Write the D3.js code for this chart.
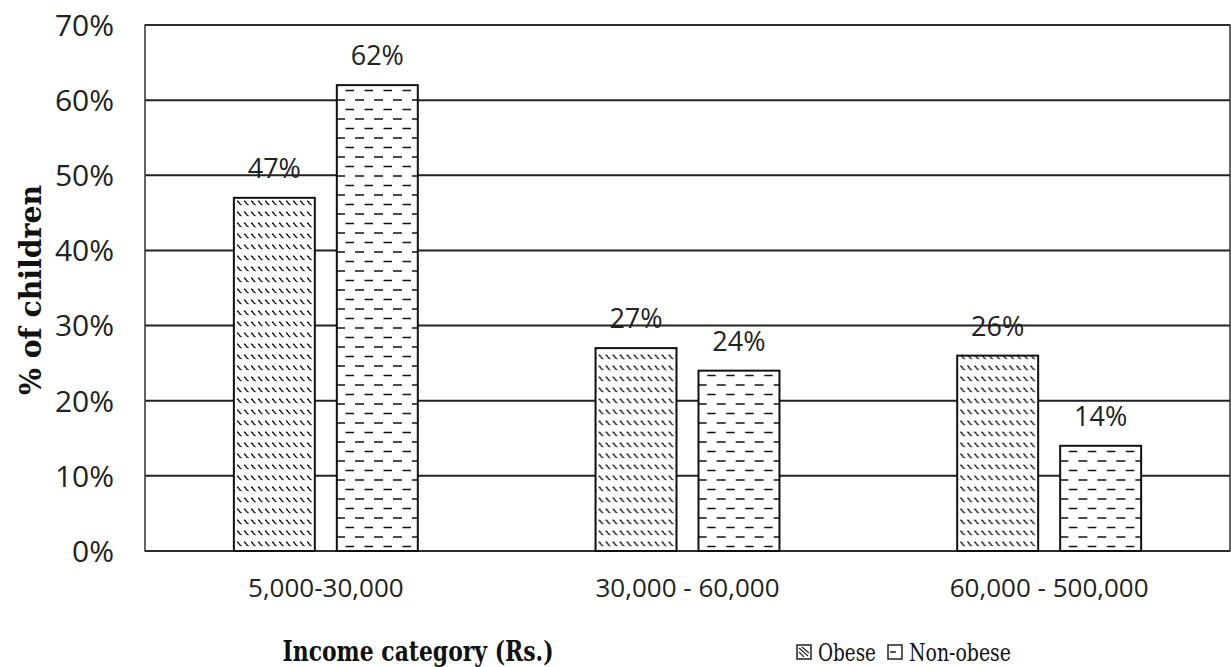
<!DOCTYPE html>
<html>
<head>
<meta charset="utf-8">
<script src="https://cdn.jsdelivr.net/npm/d3@7"></script>
<style>
  body { margin: 0; background: #fff; }
  svg { display: block; }
</style>
</head>
<body>
<div id="chart"></div>
<script>
const categories = ["5,000-30,000", "30,000 - 60,000", "60,000 - 500,000"];
const seriesNames = ["Obese", "Non-obese"];
const obese = [47, 27, 26];
const nonObese = [62, 24, 14];
const yTicks = [0, 10, 20, 30, 40, 50, 60, 70];

const W = 1231, H = 667;
const margin = { top: 25, right: 1, bottom: 116, left: 145 };

const svg = d3.select("#chart").append("svg")
  .attr("width", W).attr("height", H);

const defs = svg.append("defs");

// obese: rows of small slanted strokes
const pObese = defs.append("pattern")
  .attr("id", "pat-obese")
  .attr("patternUnits", "userSpaceOnUse")
  .attr("width", 7).attr("height", 11);
pObese.append("rect").attr("width", 7).attr("height", 11).attr("fill", "#fff");
pObese.append("path")
  .attr("d", "M1,3 Q2.5,3.2 3,4.8 T5.6,7")
  .attr("fill", "none").attr("stroke", "#111").attr("stroke-width", 1.3);

// non-obese: staggered horizontal dashes
const pNon = defs.append("pattern")
  .attr("id", "pat-non")
  .attr("patternUnits", "userSpaceOnUse")
  .attr("width", 19).attr("height", 19);
pNon.append("rect").attr("width", 19).attr("height", 19).attr("fill", "#fff");
pNon.append("path")
  .attr("d", "M1,5 H10 M10.5,14.5 H19.5 M-9,14.5 H0")
  .attr("fill", "none").attr("stroke", "#111").attr("stroke-width", 1.6);

const fills = { "Obese": "url(#pat-obese)", "Non-obese": "url(#pat-non)" };

const x = d3.scaleBand()
  .domain(categories)
  .range([margin.left, W - margin.right]);

const xSub = d3.scaleBand()
  .domain(seriesNames)
  .range([0, x.bandwidth()])
  .paddingInner(0.2136)
  .paddingOuter(0.863);

const y = d3.scaleLinear()
  .domain([0, 70])
  .range([H - margin.bottom, margin.top]);

// gridlines
svg.append("g")
  .selectAll("line")
  .data(yTicks)
  .join("line")
  .attr("x1", margin.left).attr("x2", W - margin.right)
  .attr("y1", d => y(d)).attr("y2", d => y(d))
  .attr("stroke", "#222").attr("stroke-width", 2);

// frame
svg.append("rect")
  .attr("x", margin.left).attr("y", margin.top)
  .attr("width", W - margin.right - margin.left)
  .attr("height", y(0) - margin.top)
  .attr("fill", "none").attr("stroke", "#333").attr("stroke-width", 1.5);

const sans = "'Open Sans', sans-serif";
const serif = "'DejaVu Serif', serif";

// y tick labels
svg.append("g")
  .selectAll("text")
  .data(yTicks)
  .join("text")
  .attr("x", 114)
  .attr("y", d => y(d))
  .attr("dy", "0.36em")
  .attr("text-anchor", "end")
  .style("font-family", sans)
  .style("font-size", "30px")
  .style("fill", "#222")
  .text(d => d + "%");

const rows = categories.map((c, i) => ({ cat: c, values: [
  { key: "Obese", value: obese[i] },
  { key: "Non-obese", value: nonObese[i] }
]}));

const groups = svg.append("g")
  .selectAll("g")
  .data(rows)
  .join("g")
  .attr("transform", d => `translate(${x(d.cat)},0)`);

groups.selectAll("rect")
  .data(d => d.values)
  .join("rect")
  .attr("x", d => xSub(d.key))
  .attr("y", d => y(d.value))
  .attr("width", xSub.bandwidth())
  .attr("height", d => y(0) - y(d.value))
  .attr("fill", d => fills[d.key])
  .attr("stroke", "#111")
  .attr("stroke-width", 2);

groups.selectAll("text")
  .data(d => d.values)
  .join("text")
  .attr("x", d => xSub(d.key) + xSub.bandwidth() / 2)
  .attr("y", d => y(d.value) - 20)
  .attr("text-anchor", "middle")
  .style("font-family", sans)
  .style("font-size", "27px")
  .style("fill", "#222")
  .text(d => d.value + "%");

// category labels
svg.append("g")
  .selectAll("text")
  .data(categories)
  .join("text")
  .attr("x", d => x(d) + x.bandwidth() / 2)
  .attr("y", 597)
  .attr("text-anchor", "middle")
  .style("font-family", sans)
  .style("font-size", "26px")
  .style("fill", "#222")
  .text(d => d);

// axis titles (Cambria-like proportions: taller glyphs squeezed to width)
svg.append("text")
  .attr("transform", `translate(41,290) rotate(-90)`)
  .attr("text-anchor", "middle")
  .attr("textLength", 210)
  .attr("lengthAdjust", "spacingAndGlyphs")
  .style("font-family", serif)
  .style("font-weight", "bold")
  .style("font-size", "30px")
  .style("fill", "#111")
  .text("% of children");

svg.append("text")
  .attr("x", 418).attr("y", 661)
  .attr("text-anchor", "middle")
  .attr("textLength", 271)
  .attr("lengthAdjust", "spacingAndGlyphs")
  .style("font-family", serif)
  .style("font-weight", "bold")
  .style("font-size", "27px")
  .style("fill", "#111")
  .text("Income category (Rs.)");

// legend
const legend = svg.append("g").attr("transform", "translate(797,645)");
const legendItems = [
  { key: "Obese", x: 0, w: 58 },
  { key: "Non-obese", x: 91, w: 102 }
];
const li = legend.selectAll("g")
  .data(legendItems)
  .join("g")
  .attr("transform", d => `translate(${d.x},0)`);
li.append("rect")
  .attr("width", 14).attr("height", 14)
  .attr("fill", "#fff").attr("stroke", "#222").attr("stroke-width", 1.5);
li.filter(d => d.key === "Obese").append("path")
  .attr("d", "M2,3 L11,11 M5,2 L12,8 M2,7 L7,12")
  .attr("stroke", "#222").attr("stroke-width", 1.1).attr("fill", "none");
li.filter(d => d.key === "Non-obese").append("path")
  .attr("d", "M2,7 H8")
  .attr("stroke", "#222").attr("stroke-width", 1.5).attr("fill", "none");
li.append("text")
  .attr("x", 21).attr("y", 16)
  .attr("textLength", d => d.w)
  .attr("lengthAdjust", "spacingAndGlyphs")
  .style("font-family", serif)
  .style("font-size", "25px")
  .style("fill", "#111")
  .text(d => d.key);
</script>
</body>
</html>
